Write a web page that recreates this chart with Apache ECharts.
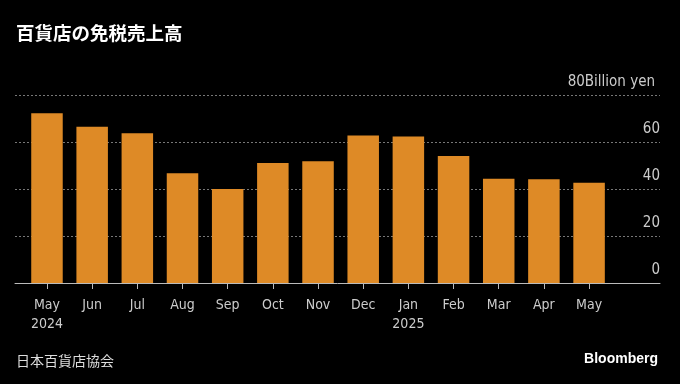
<!DOCTYPE html>
<html><head><meta charset="utf-8">
<script src="https://cdn.jsdelivr.net/npm/echarts@6/dist/echarts.min.js"></script>
<style>html,body{margin:0;padding:0;background:#000;}#c{width:680px;height:384px;}</style>
</head><body><div id="c"></div>
<script>
const months = ['May','Jun','Jul','Aug','Sep','Oct','Nov','Dec','Jan','Feb','Mar','Apr','May'];
const years = ['2024','','','','','','','','2025','','','',''];
const sales = [72.2, 66.5, 63.7, 46.7, 40.0, 51.1, 51.8, 62.8, 62.3, 54.0, 44.4, 44.1, 42.7];
const yTicks = [0, 20, 40, 60, 80];
const unit = 'Billion yen';
const title = '百貨店の免税売上高';
const source = '日本百貨店協会';

const font = '"DejaVu Sans Condensed","Liberation Sans Narrow","DejaVu Sans",sans-serif';
const chart = echarts.init(document.getElementById('c'), null, {renderer:'canvas'});
const idx = months.map((m,i)=>i);
chart.setOption({
  backgroundColor:'#000',
  animation:false,
  title:[
    {text:title,left:11,top:19,textStyle:{color:'#fff',fontSize:18.5,fontWeight:'bold',fontFamily:'"Noto Sans CJK JP",sans-serif'}},
    {text:source,left:11,top:349,textStyle:{color:'#ddd',fontSize:14,fontWeight:'normal',fontFamily:'"Noto Sans CJK JP",sans-serif'}},
    {text:'Bloomberg',right:17,top:347,textStyle:{color:'#fff',fontSize:14,fontWeight:'bold',fontFamily:'"Liberation Sans",Arial,sans-serif'}}
  ],
  grid:{left:15,right:20,top:95,bottom:101},
  xAxis:{
    type:'value',min:-0.708,max:13.57,
    splitLine:{show:false},
    axisLine:{show:true,onZero:false,lineStyle:{color:'#bbb',width:1}},
    axisTick:{show:true,customValues:idx,length:6,lineStyle:{color:'#bbb'}},
    axisLabel:{customValues:idx,color:'#ccc',fontSize:14,fontFamily:font,lineHeight:19,margin:13,
      formatter:v=>{const i=Math.round(v);return years[i]?months[i]+'\n'+years[i]:months[i];}}
  },
  yAxis:{
    type:'value',position:'right',min:0,max:80,interval:20,
    axisLine:{show:false},axisTick:{show:false},
    splitLine:{show:true,lineStyle:{color:'#777',type:[2,2],width:1}},
    axisLabel:{inside:true,margin:0,color:'#ccc',fontSize:15,fontFamily:font,verticalAlign:'bottom',padding:[0,0,5,0],
      formatter:v=>v===yTicks[yTicks.length-1]?'{u|'+v+unit+'}':String(v),
      rich:{u:{color:'#ccc',fontSize:15,fontFamily:font,padding:[0,5,0,0]}}}
  },
  series:[{
    type:'bar',barWidth:31.5,
    itemStyle:{color:'#DE8A26'},
    data:sales.map((v,i)=>[i,v])
  }]
});
</script></body></html>
